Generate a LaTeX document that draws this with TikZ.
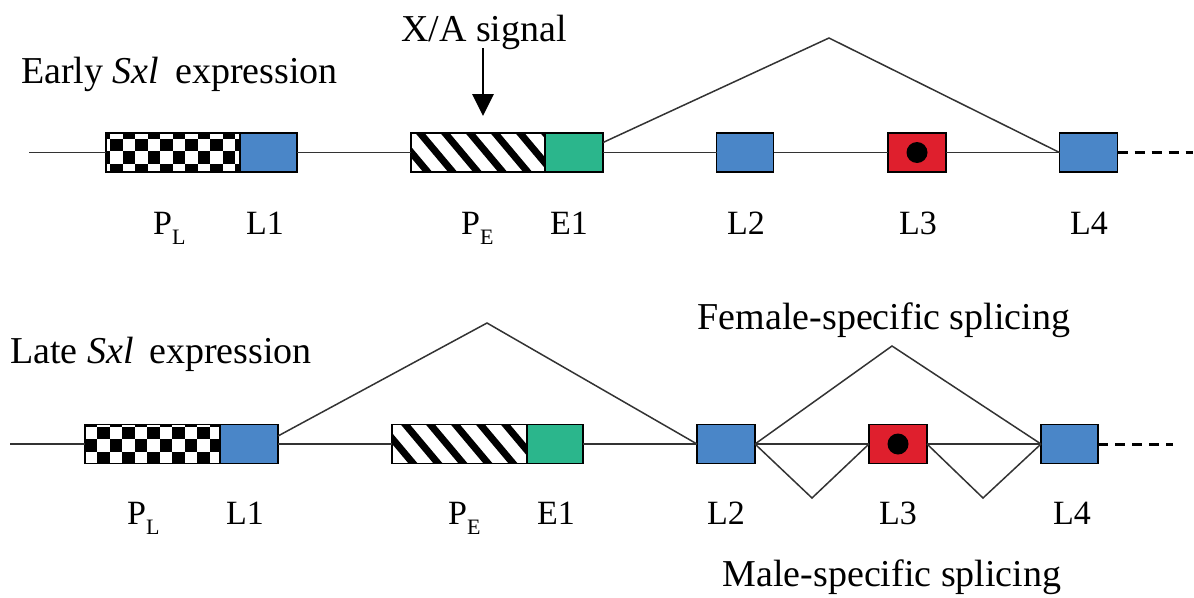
\documentclass[tikz,border=0pt]{standalone}
\usepackage{fontspec}
\setmainfont{Liberation Serif}
\usetikzlibrary{arrows.meta}
\definecolor{exblue}{HTML}{4A86C8}
\definecolor{exgreen}{HTML}{2BB68C}
\definecolor{exred}{HTML}{DF1F2D}
\newcommand{\sub}[1]{\raisebox{-0.32em}{\fontsize{22}{26}\selectfont #1}}
\tikzset{
  title/.style={inner sep=0pt, font=\fontsize{38}{44}\selectfont},
  lbl/.style={inner sep=0pt, anchor=base, font=\fontsize{34}{40}\selectfont},
  wire/.style={line width=1.5pt, draw=black!80},
  splice/.style={line width=1.5pt, draw=black!80},
  exon/.style={draw, line width=1.6pt, minimum width=57pt, minimum height=39pt, inner sep=0pt, outer sep=0pt},
  bluex/.style={exon, fill=exblue},
  greenx/.style={exon, fill=exgreen},
  redx/.style={exon, fill=exred},
  checkbox/.style n args={3}{exon, minimum width=#1pt, fill=white, path picture={
      \foreach \i in {0,...,12}{\foreach \j in {0,...,4}{
        \pgfmathtruncatemacro\k{mod(\i+\j,2)}
        \ifnum\k=0
          \fill[black] (-#1/2+#2+\i*12.5, -19.5+#3+\j*12.5) rectangle ++(12.5,12.5);
        \fi}}}},
  hatchbox/.style n args={2}{exon, minimum width=#1pt, fill=white, path picture={
      \foreach \i in {-3,...,7}{
        \draw[line width=7pt] (-#1/2+#2+\i*25, -23.5) -- ++(42,50);}}},
  dot/.style={circle, fill=black, minimum size=21pt, inner sep=0pt},
  dashedtail/.style={line width=3pt, dash pattern=on 10pt off 7pt},
}
\begin{document}
\begin{tikzpicture}[x=1pt,y=-1pt]
\useasboundingbox (0,0) rectangle (1194,597);
% ---------- Early ----------
\node[title, anchor=base west] (early) at (21,83) {Early \textit{Sxl}\, expression};
\node[title, anchor=base] (xa) at (484,41) {X/A signal};
\node[checkbox={134}{-8.5}{-7}] (PLt) at (173,152.5) {};
\node[bluex] (L1t) at (268.5,152.5) {};
\node[hatchbox={134}{5.6}] (PEt) at (478,152.5) {};
\node[greenx, minimum width=58pt] (E1t) at (574,152.5) {};
\node[bluex] (L2t) at (745,152.5) {};
\node[redx, minimum width=58pt] (L3t) at (917,152.5) {};
\node[dot] (dotT) at (L3t) {};
\node[bluex, minimum width=58pt] (L4t) at (1088.5,152.5) {};
\coordinate (startT) at (29,152.5);
\coordinate (endT) at (1193,152.5);
\coordinate (arrS) at (483,48);
\coordinate (arrE) at (483,116);
\coordinate (peakT) at (829,38);
\draw[wire] (startT) -- (PLt.west);
\draw[wire] (L1t.east) -- (PEt.west);
\draw[wire] (E1t.east) -- (L2t.west);
\draw[wire] (L2t.east) -- (L3t.west);
\draw[wire] (L3t.east) -- (L4t.west);
\draw[dashedtail] (L4t.east) -- (endT);
\draw[line width=2.8pt, -{Triangle[width=21pt,length=22pt]}] (arrS) -- (arrE);
\draw[splice] ([yshift=10pt]E1t.east) -- (peakT) -- (L4t.west);
\node[lbl, anchor=base west] (lPLt) at (153,234) {P\sub{L}};
\node[lbl] (lL1t) at (265,234) {L1};
\node[lbl, anchor=base west] (lPEt) at (461,234) {P\sub{E}};
\node[lbl] (lE1t) at (569,234) {E1};
\node[lbl] (lL2t) at (746,234) {L2};
\node[lbl] (lL3t) at (918,234) {L3};
\node[lbl] (lL4t) at (1089,234) {L4};
% ---------- Late ----------
\node[title, anchor=base west] (late) at (10,363) {Late \textit{Sxl}\, expression};
\node[title, anchor=base] (fem) at (884,329) {Female-specific splicing};
\node[title, anchor=base] (male) at (892,586) {Male-specific splicing};
\node[checkbox={135}{-0.5}{-10.5}] (PLb) at (152.5,444) {};
\node[bluex, minimum width=58pt] (L1b) at (249,444) {};
\node[hatchbox={135}{10}] (PEb) at (459.5,444) {};
\node[greenx, minimum width=56pt] (E1b) at (555,444) {};
\node[bluex, minimum width=58pt] (L2b) at (726,444) {};
\node[redx, minimum width=58pt] (L3b) at (898,444) {};
\node[dot] (dotB) at (L3b) {};
\node[bluex] (L4b) at (1069.5,444) {};
\coordinate (startB) at (10,444);
\coordinate (endB) at (1173,444);
\coordinate (peakB) at (487,323);
\coordinate (peakF) at (892,346);
\coordinate (vM1) at (812,498);
\coordinate (vM2) at (983,498);
\draw[wire] (startB) -- (PLb.west);
\draw[wire] (L1b.east) -- (PEb.west);
\draw[wire] (E1b.east) -- (L2b.west);
\draw[wire] (L2b.east) -- (L3b.west);
\draw[wire] (L3b.east) -- (L4b.west);
\draw[dashedtail] (L4b.east) -- (endB);
\draw[splice] ([yshift=8pt]L1b.east) -- (peakB) -- (L2b.west);
\draw[splice] (L2b.east) -- (peakF) -- (L4b.west);
\draw[splice] (L2b.east) -- (vM1) -- (L3b.west);
\draw[splice] (L3b.east) -- (vM2) -- (L4b.west);
\node[lbl, anchor=base west] (lPLb) at (127,524) {P\sub{L}};
\node[lbl] (lL1b) at (245,524) {L1};
\node[lbl, anchor=base west] (lPEb) at (448,524) {P\sub{E}};
\node[lbl] (lE1b) at (556,524) {E1};
\node[lbl] (lL2b) at (726,524) {L2};
\node[lbl] (lL3b) at (898,524) {L3};
\node[lbl] (lL4b) at (1072,524) {L4};
\end{tikzpicture}
\end{document}
